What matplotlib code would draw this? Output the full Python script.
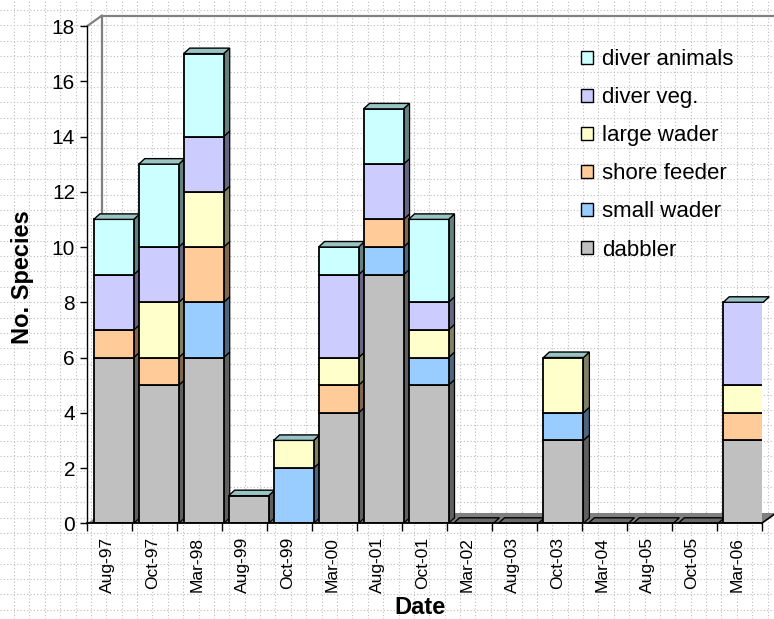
import matplotlib
matplotlib.use('Agg')
import matplotlib.pyplot as plt
from matplotlib.patches import Polygon, Patch
import numpy as np

plt.rcParams['font.family'] = ['Liberation Sans', 'DejaVu Sans']

# ---------------- data ----------------
dates = ['Aug-97', 'Oct-97', 'Mar-98', 'Aug-99', 'Oct-99', 'Mar-00', 'Aug-01',
         'Oct-01', 'Mar-02', 'Aug-03', 'Oct-03', 'Mar-04', 'Aug-05', 'Oct-05', 'Mar-06']
series_names = ['dabbler', 'small wader', 'shore feeder', 'large wader', 'diver veg.', 'diver animals']
dabbler       = [6, 5, 6, 1, 0, 4, 9, 5, 0, 0, 3, 0, 0, 0, 3]
small_wader   = [0, 0, 2, 0, 2, 0, 1, 1, 0, 0, 1, 0, 0, 0, 0]
shore_feeder  = [1, 1, 2, 0, 0, 1, 1, 0, 0, 0, 0, 0, 0, 0, 1]
large_wader   = [0, 2, 2, 0, 1, 1, 0, 1, 0, 0, 2, 0, 0, 0, 1]
diver_veg     = [2, 2, 2, 0, 0, 3, 2, 1, 0, 0, 0, 0, 0, 0, 3]
diver_animals = [2, 3, 3, 0, 0, 1, 2, 3, 0, 0, 0, 0, 0, 0, 0]
colors = ['#c0c0c0', '#99ccff', '#ffcc99', '#ffffcc', '#ccccff', '#ccffff']
y_ticks = list(range(0, 19, 2))

series = [dabbler, small_wader, shore_feeder, large_wader, diver_veg, diver_animals]

# ---------------- figure ----------------
W, H = 774, 619
fig = plt.figure(figsize=(W / 100, H / 100), dpi=100)
fig.patch.set_facecolor('white')

# dotted page grid in the background
bg = fig.add_axes([0, 0, 1, 1], zorder=0)
bg.set_xlim(0, W)
bg.set_ylim(H, 0)
bg.axis('off')
for gx in np.arange(14, W, 15.38):
    bg.axvline(gx, color='#bdbdbd', lw=0.8, ls=(0, (1, 2)))
for gy in np.arange(10, H, 15.38):
    bg.axhline(gy, color='#bdbdbd', lw=0.8, ls=(0, (1, 2)))

# main axes (front plane of the 3-D chart)
x_left, x_right, y_zero, y_top = 87.3, 761.7, 523.3, 26.0
ax = fig.add_axes([x_left / W, (H - y_zero) / H, (x_right - x_left) / W, (y_zero - y_top) / H], zorder=1)
ax.set_facecolor('none')
n = len(dates)
ax.set_xlim(0, n)
ax.set_ylim(0, 18)

sx = n / (x_right - x_left)      # data units per pixel (x)
sy = 18 / (y_zero - y_top)       # data units per pixel (y)

# wall / floor geometry
wx, wy = 14.4 * sx, 10.3 * sy
floor = Polygon([(0, 0), (n, 0), (n + wx, wy), (wx, wy)], closed=True,
                facecolor='#808080', edgecolor='none', zorder=1.5, clip_on=False)
ax.add_patch(floor)
wall_col = '#808080'
ax.plot([wx, wx], [wy, 18 + wy], color=wall_col, lw=1.6, clip_on=False, zorder=1.4)
ax.plot([wx, n + 2], [18 + wy, 18 + wy], color=wall_col, lw=1.6, clip_on=False, zorder=1.4)
ax.plot([0, wx], [18, 18 + wy], color=wall_col, lw=1.6, clip_on=False, zorder=1.4)
ax.plot([n, n + wx], [0, wy], color='black', lw=1.2, clip_on=False, zorder=1.6)

# bars
bw = 40 * sx
boff = 6.5 * sx
dx, dy = 6 * sx, 5.5 * sy
xpos = np.arange(n) + boff


def darker(c, f):
    r, g, b = matplotlib.colors.to_rgb(c)
    return (r * f, g * f, b * f)


bottom = np.zeros(n)
for s, (vals, col, name) in enumerate(zip(series, colors, series_names)):
    vals = np.array(vals, dtype=float)
    rects = ax.bar(xpos, vals, width=bw, bottom=bottom, align='edge', color=col,
                   edgecolor='black', linewidth=1.3, label=name)
    for i, r in enumerate(rects):
        z = 2 + i * 0.1 + s * 0.01
        r.set_zorder(z)
        if vals[i] == 0:
            r.set_visible(False)
            continue
        x0 = xpos[i]
        b0 = bottom[i]
        b1 = b0 + vals[i]
        side = Polygon([(x0 + bw, b0), (x0 + bw + dx, b0 + dy), (x0 + bw + dx, b1 + dy), (x0 + bw, b1)],
                       closed=True, facecolor=darker(col, 0.5), edgecolor='black', lw=0.9, zorder=z - 0.001)
        ax.add_patch(side)
    bottom = bottom + vals

# top faces of each stack
for i in range(n):
    x0 = xpos[i]
    t = bottom[i]
    fc = '#99c4c4' if t > 0 else '#6a6a6a'
    top = Polygon([(x0, t), (x0 + bw, t), (x0 + bw + dx, t + dy), (x0 + dx, t + dy)],
                  closed=True, facecolor=fc, edgecolor='black', lw=1.0,
                  zorder=2 + i * 0.1 + 0.09, clip_on=False)
    ax.add_patch(top)

# axes styling
for sp in ['top', 'right']:
    ax.spines[sp].set_visible(False)
ax.spines['left'].set_color('black')
ax.spines['left'].set_linewidth(1.0)
ax.spines['bottom'].set_color('black')
ax.spines['bottom'].set_linewidth(1.3)
ax.spines['bottom'].set_zorder(3.9)

ax.set_yticks(y_ticks)
ax.set_yticklabels([str(v) for v in y_ticks])
ax.tick_params(axis='y', labelsize=15, length=4.8, width=1, pad=4, colors='black')

ax.set_xticks(np.arange(0, n + 1))
ax.set_xticklabels([])
ax.tick_params(axis='x', which='major', length=5.5, width=1, colors='black')
ax.set_xticks(np.arange(n) + 0.45, minor=True)
ax.set_xticklabels(dates, minor=True, rotation=90, fontsize=12.5)
ax.tick_params(axis='x', which='minor', length=0, pad=10)

# axis titles
fig.text(22 / W, 1 - 277 / H, 'No. Species', rotation=90, fontweight='bold', fontsize=17,
         ha='center', va='center')
fig.text(420 / W, 1 - 608 / H, 'Date', fontweight='bold', fontsize=17, ha='center', va='center')

# legend (reversed order, as in the reference)
handles = [Patch(facecolor=c, edgecolor='black', lw=1.0) for c in colors][::-1]
labels = series_names[::-1]
fig.legend(handles, labels, loc='upper left', bbox_to_anchor=(580.5 / W, 1 - 49 / H),
           frameon=False, fontsize=16, handlelength=0.54, handleheight=0.54,
           handletextpad=0.45, labelspacing=0.77, borderpad=0, borderaxespad=0)

fig.savefig('out.png', dpi=100)
